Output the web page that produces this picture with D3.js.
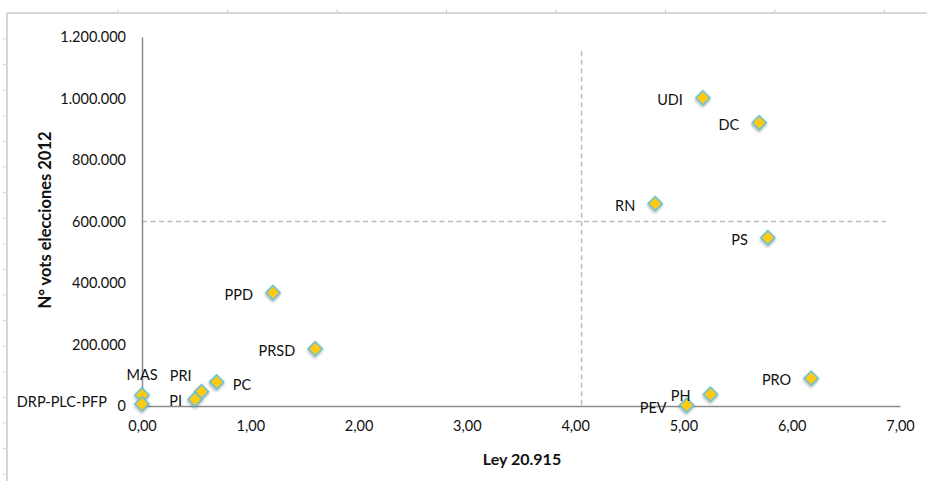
<!DOCTYPE html>
<html>
<head>
<meta charset="utf-8">
<script src="https://cdn.jsdelivr.net/npm/d3@7/dist/d3.min.js"></script>
<style>
  html, body { margin: 0; padding: 0; background: #fff; }
  svg { display: block; font-family: Lato, "Open Sans", sans-serif; }
</style>
</head>
<body>
<svg id="chart" width="927" height="481"></svg>
<script>
// ---------- data ----------
const parties = ["UDI", "DC", "RN", "PS", "PRO", "PH", "PEV", "PPD", "PRSD", "PC", "PRI", "PI", "MAS", "DRP-PLC-PFP"];
const leyValues = [5.18, 5.70, 4.74, 5.78, 6.18, 5.25, 5.03, 1.21, 1.60, 0.69, 0.55, 0.49, 0.00, 0.00];
const votes2012 = [1002000, 921000, 658000, 547000, 90000, 38000, 2300, 368500, 186000, 78000, 46500, 21800, 35800, 6500];
const xTicks = [0, 1, 2, 3, 4, 5, 6, 7];
const yTicks = [0, 200000, 400000, 600000, 800000, 1000000, 1200000];
const xTitle = "Ley 20.915";
const yTitle = "N° vots elecciones 2012";
// reference (dashed) lines
const refX = 4.06;          // vertical dashed line
const refXTop = 1154000;    // its upper end
const refY = 600000;        // horizontal dashed line
const refYEnd = 6.87;       // its right end

// ---------- label placement (style config) ----------
const labelPlacement = {
  "PC": { anchor: "start", dx: 16, dy: 2 },
  "MAS": { anchor: "middle", dx: 0, dy: -20 },
  "PRI": { anchor: "end", dx: -10, dy: -16 },
  "PI": { anchor: "end", dx: -13, dy: 1 },
  "DRP-PLC-PFP": { anchor: "end", dx: -35, dy: -3 },
  "PEV": { anchor: "end", dx: -20, dy: 2 }
};
const defaultPlacement = { anchor: "end", dx: -20, dy: 1.5 };

// ---------- chart ----------
const svg = d3.select("#chart");
const W = 927, H = 481;
const plot = { left: 142, right: 900, top: 37, bottom: 406 };

const loc = d3.formatLocale({ decimal: ",", thousands: ".", grouping: [3], currency: ["", ""] });
const fmtY = loc.format(",.0f");
const fmtX = loc.format(".2f");

const x = d3.scaleLinear().domain([0, 7]).range([plot.left, plot.right]);
const y = d3.scaleLinear().domain([0, 1200000]).range([plot.bottom, plot.top]);

svg.append("rect").attr("width", W).attr("height", H).attr("fill", "#fff");

// outer frame (light gray with small ruler ticks)
const frame = svg.append("g").attr("stroke", "#d6d6d6").attr("fill", "none");
frame.append("line").attr("x1", 7).attr("x2", W).attr("y1", 13).attr("y2", 13).attr("stroke-width", 2);
frame.append("line").attr("x1", 7).attr("x2", 7).attr("y1", 13).attr("y2", H).attr("stroke-width", 2);
d3.range(118, W, 109.5).forEach(px => frame.append("line").attr("x1", px).attr("x2", px).attr("y1", 9).attr("y2", 13).attr("stroke-width", 1));
d3.range(39, H, 25.6).forEach(py => frame.append("line").attr("x1", 3).attr("x2", 7).attr("y1", py).attr("y2", py).attr("stroke-width", 1));

// dashed reference lines
svg.append("line")
  .attr("x1", x(0)).attr("x2", x(refYEnd))
  .attr("y1", y(refY)).attr("y2", y(refY))
  .attr("stroke", "#bdbdbd").attr("stroke-width", 1.5).attr("stroke-dasharray", "5,3.5");
svg.append("line")
  .attr("x1", x(refX)).attr("x2", x(refX))
  .attr("y1", y(refXTop)).attr("y2", y(0))
  .attr("stroke", "#bdbdbd").attr("stroke-width", 1.5).attr("stroke-dasharray", "5,3.5");

// axes
const yAxis = d3.axisLeft(y).tickValues(yTicks).tickFormat(fmtY).tickSize(0).tickPadding(16);
const gy = svg.append("g").attr("transform", `translate(${plot.left},0)`).call(yAxis);
gy.select(".domain").attr("stroke", "#8c8c8c").attr("stroke-width", 1.5);
gy.selectAll("text").attr("font-size", 14.5).attr("fill", "#111").attr("font-family", "Lato, sans-serif");

const xAxis = d3.axisBottom(x).tickValues(xTicks).tickFormat(fmtX).tickSize(0).tickPadding(15);
const gx = svg.append("g").attr("transform", `translate(0,${plot.bottom})`).call(xAxis);
gx.select(".domain").attr("stroke", "#8c8c8c").attr("stroke-width", 1.5);
gx.selectAll("text").attr("font-size", 14.5).attr("fill", "#111").attr("font-family", "Lato, sans-serif");

// axis titles
svg.append("text")
  .attr("x", 522).attr("y", 465)
  .attr("text-anchor", "middle")
  .attr("font-size", 16).attr("font-weight", "bold").attr("fill", "#111")
  .text(xTitle);
svg.append("text")
  .attr("transform", "translate(51,220) rotate(-90)")
  .attr("text-anchor", "middle")
  .attr("font-size", 16.5).attr("font-weight", "bold").attr("fill", "#111")
  .text(yTitle);

// shadow filter
const defs = svg.append("defs");
const f = defs.append("filter").attr("id", "shadow").attr("x", "-50%").attr("y", "-50%").attr("width", "200%").attr("height", "200%");
f.append("feDropShadow").attr("dx", 1).attr("dy", 1.5).attr("stdDeviation", 1).attr("flood-color", "#000").attr("flood-opacity", 0.3);

const data = parties.map((p, i) => ({ name: p, lx: leyValues[i], v: votes2012[i] }));

// points
const diamond = d3.symbol().type(d3.symbolSquare).size(100);
svg.append("g").selectAll("path").data(data).join("path")
  .attr("d", diamond)
  .attr("transform", d => `translate(${x(d.lx)},${y(d.v)}) rotate(45)`)
  .attr("fill", "#FFC90E")
  .attr("stroke", "#5BBFCB")
  .attr("stroke-width", 1.6)
  .attr("filter", "url(#shadow)");

// labels
svg.append("g").selectAll("text").data(data).join("text")
  .attr("x", d => x(d.lx) + (labelPlacement[d.name] || defaultPlacement).dx)
  .attr("y", d => y(d.v) + (labelPlacement[d.name] || defaultPlacement).dy)
  .attr("text-anchor", d => (labelPlacement[d.name] || defaultPlacement).anchor)
  .attr("dominant-baseline", "central")
  .attr("font-size", 14.5).attr("fill", "#111")
  .text(d => d.name);
</script>
</body>
</html>
